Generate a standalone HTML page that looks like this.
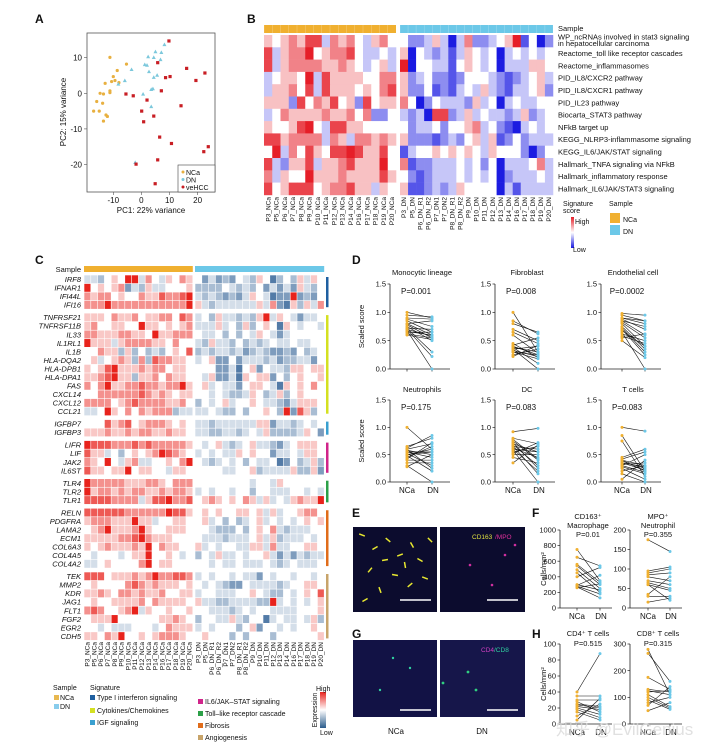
<!DOCTYPE html>
<html><head><meta charset="utf-8"><style>
html,body{margin:0;padding:0;background:#fff}
svg{display:block;font-family:"Liberation Sans",Arial,sans-serif}
</style></head><body>
<svg id="fig" width="720" height="752" viewBox="0 0 720 752" xmlns="http://www.w3.org/2000/svg"></svg>
<script>
// ---------- DATA ----------
const pcaNCaX=[-11.2,-5.3,-8.6,-10,-9.4,-10.6,-8,-12.9,-14.7,-13.5,-11.2,-11.2,-15.9,-13.8,-17,-15,-12.6,-12.1,-13.5];
const pcaNCaY=[10.1,8.2,6.4,4.7,3.6,3.3,3,2.8,0,-0.2,0.7,0.2,-2.3,-2.8,-5,-5,-6.1,-6.5,-7.8];
const pcaDNX=[-3.5,-5.9,-8.2,0.6,3.5,2.4,5,7.1,4.4,6.8,8.2,1.2,2,2.7,4.4,5.6,3.5,4.1,-2.2];
const pcaDNY=[6.7,3.6,2.6,-0.2,-3.7,10.3,11.7,11.5,10.1,9.5,13.7,8.1,7.9,6.1,4.5,5.1,1.1,1.3,-19.4];
const pcaHCCX=[9.8,5.8,8.6,10.2,16.1,19.4,22.6,-5.5,-2.9,2,7.1,14.1,0.1,4.4,0.8,6.5,10.7,23.8,22.2,5.8,-1.9,4.9];
const pcaHCCY=[14.7,8.6,4.4,4.7,7,3.6,5.7,-0.2,-0.7,-1.9,0.7,-3.5,-5,-6.4,-8,-12.3,-14.1,-15,-16.4,-18.7,-19.9,-25.4];

const bNCaCols=["P3_NCa","P5_NCa","P6_NCa","P7_NCa","P8_NCa","P9_NCa","P10_NCa","P11_NCa","P12_NCa","P13_NCa","P14_NCa","P16_NCa","P17_NCa","P18_NCa","P19_NCa","P20_NCa"];
const bDNCols=["P3_DN","P5_DN","P6_DN_R1","P6_DN_R2","P7_DN1","P7_DN2","P8_DN_R1","P8_DN_R2","P9_DN","P10_DN","P11_DN","P12_DN","P13_DN","P14_DN","P16_DN","P17_DN","P18_DN","P19_DN","P20_DN"];
const bRows=["WP_ncRNAs involved in stat3 signaling|in hepatocellular carcinoma","Reactome_toll like receptor cascades","Reactome_inflammasomes","PID_IL8/CXCR2 pathway","PID_IL8/CXCR1 pathway","PID_IL23 pathway","Biocarta_STAT3 pathway","NFkB target up","KEGG_NLRP3-inflammasome signaling","KEGG_IL6/JAK/STAT signaling","Hallmark_TNFA signaling via NFkB","Hallmark_inflammatory response","Hallmark_IL6/JAK/STAT3 signaling"];
const bScores=[
"6567688476754675"+"5334641473345692513",
"8467795677854454"+"6054342465450454545",
"8467777667654564"+"9055442565451444665",
"4566594866665577"+"6345332355543234564",
"4667584866656578"+"6335232454643244563",
"6663857685638566"+"7503544436451454455",
"4576666766757335"+"4341883464544346345",
"6556895488665555"+"5344535567453214545",
"8867777476477676"+"6333234356462353444",
"5947586588986685"+"2455656565465553135",
"8436684667866695"+"7233444545351444574",
"7465596667666686"+"5323444545451344454",
"8568885677866465"+"6223434655551424444"];

const cGenes=["IRF8","IFNAR1","IFI44L","IFI16","TNFRSF21","TNFRSF11B","IL33","IL1RL1","IL1B","HLA-DQA2","HLA-DPB1","HLA-DPA1","FAS","CXCL14","CXCL12","CCL21","IGFBP7","IGFBP3","LIFR","LIF","JAK2","IL6ST","TLR4","TLR2","TLR1","RELN","PDGFRA","LAMA2","ECM1","COL6A3","COL4A5","COL4A2","TEK","MMP2","KDR","JAG1","FLT1","FGF2","EGR2","CDH5"];
const cGroups=[4,12,2,4,3,7,8];
const cGroupColors=["#1f5fa0","#d4e021","#3aa0d0","#d0248a","#2ca048","#e06c1a","#c8a46a"];
const cExpr=[
"4435659947546576"+"5242325436513536465",
"9565672436445556"+"3333543435242426435",
"7677565576687789"+"4343232465412292325",
"7779777777777779"+"6434444446472163647",
"6665766756677587"+"4536443436946542445",
"6755665596656567"+"4446453635651654554",
"7766677665966777"+"5445353546542455555",
"9666467777665755"+"4364435343454454455",
"5576636353435658"+"3434434234322325345",
"5645676373877665"+"4562252444342334425",
"6568966676775665"+"5552241562544366566",
"6678966366757665"+"5462241656625356556",
"7579667787767796"+"5645442566541656575",
"5577777787676566"+"5545433465346356555",
"7777567877776675"+"3545645565443246665",
"4459657576777344"+"4454335355653928635",
"5558678567776565"+"4434444446624434545",
"6667667677667665"+"4433443454633334652",
"9888777878777776"+"5456434564432456665",
"8664535656798765"+"4545446565524454665",
"7659546744556579"+"5434545354451253463",
"8665669566554665"+"5555445563444463362",
"9777776667765777"+"5555555545546555555",
"9677676776676776"+"4545545535544455454",
"8888777746889778"+"5676565764645467669",
"8888887777779886"+"5656556656464556775",
"6777666966455665"+"5645353456454545656",
"5679666796556665"+"5543335356574344455",
"6666677897666555"+"5444344456463444545",
"6567666769576655"+"6454554466474455665",
"5455545669556545"+"3546445455642424344",
"4456555579566555"+"5545445444543454445",
"8885666767977887"+"4545545442545545545",
"5655557876766656"+"5454322544443455665",
"6676577676675566"+"4554445565433545658",
"5655666675766665"+"6443344443394545456",
"7875567946556556"+"5544434545544445556",
"5666955555566765"+"3554464355145445463",
"5545444555457666"+"4545553562554545565",
"6657695565677765"+"5655535355535555556"];

const dTitles=["Monocytic lineage","Fibroblast","Endothelial cell","Neutrophils","DC","T cells"];
const dPvals=["P=0.001","P=0.008","P=0.0002","P=0.175","P=0.083","P=0.083"];
const dNCa=[
[1.0,0.95,0.9,0.88,0.85,0.8,0.78,0.75,0.72,0.7,0.68,0.65,0.62,0.6,0.72,0.8,0.66,0.7],
[1.0,0.85,0.8,0.7,0.65,0.45,0.4,0.38,0.35,0.35,0.3,0.3,0.25,0.22,0.38,0.42,0.6,0.33],
[0.98,0.95,0.9,0.88,0.85,0.82,0.8,0.75,0.7,0.65,0.62,0.58,0.5,0.55,0.9,0.72,0.68,0.85],
[1.0,0.65,0.62,0.6,0.58,0.55,0.52,0.5,0.48,0.45,0.4,0.3,0.28,0.35,0.6,0.5,0.42,0.55],
[0.92,0.8,0.75,0.7,0.68,0.65,0.62,0.6,0.58,0.55,0.5,0.45,0.35,0.72,0.6,0.52,0.78,0.66],
[1.0,0.85,0.75,0.45,0.42,0.4,0.38,0.35,0.32,0.3,0.28,0.25,0.2,0.15,0.05,0.35,0.4,0.3]];
const dDN=[
[0.9,0.92,0.88,0.75,0.65,0.6,0.55,0.5,0.3,0.22,0.0,0.65,0.55,0.52,0.7,0.85,0.6,0.58],
[0.3,0.62,0.65,0.5,0.45,0.2,0.25,0.3,0.0,0.4,0.25,0.18,0.35,0.42,0.1,0.55,0.28,0.22],
[0.95,0.85,0.8,0.7,0.6,0.55,0.4,0.35,0.25,0.0,0.5,0.45,0.2,0.62,0.85,0.3,0.4,0.75],
[0.6,0.8,0.85,0.7,0.5,0.45,0.3,0.55,0.2,0.65,0.4,0.0,0.5,0.35,0.25,0.6,0.72,0.55],
[0.98,0.7,0.4,0.55,0.3,0.6,0.45,0.2,0.0,0.65,0.5,0.35,0.68,0.25,0.55,0.72,0.42,0.15],
[0.93,0.2,0.1,0.6,0.55,0.3,0.25,0.22,0.35,0.5,0.15,0.05,0.3,0.0,0.4,0.28,0.2,0.18]];
const dTicks=[0,0.5,1.0,1.5];

const fhTitles1=["CD163⁺","MPO⁺","CD4⁺ T cells","CD8⁺ T cells"];
const fhTitles2=["Macrophage","Neutrophil","",""];
const fhPvals=["P=0.01","P=0.355","P=0.515","P=0.315"];
const fhMax=[1000,200,100,300];
const fhStep=[200,50,20,100];
const fhNCa=[
[750,650,560,540,490,450,400,300,290,280,270,260],
[175,95,90,85,70,65,60,35,30,15,80,60],
[40,35,30,25,24,22,20,18,15,10,5,28],
[280,265,175,130,120,110,100,90,80,70,50,125]];
const fhDN=[
[350,540,330,300,250,200,520,230,420,180,130,310],
[145,105,100,90,60,50,45,80,30,25,70,20],
[88,35,30,22,20,18,12,8,5,25,32,15],
[110,160,130,120,125,65,60,55,100,140,80,110]];

// ---------- helpers ----------
const NS="http://www.w3.org/2000/svg";
const svg=document.getElementById('fig');
function mk(tag,parent){const e=document.createElementNS(NS,tag);(parent||svg).appendChild(e);return e;}
function at(e,o){for(const k in o)e.setAttribute(k,o[k]);return e;}
function txt(parent,x,y,s,size,anchor,extra){const t=mk('text',parent);at(t,{x:x,y:y,'font-size':size,'text-anchor':anchor||'start',fill:'#111'});if(extra)at(t,extra);t.textContent=s;return t;}
function grp(name){const g=mk('g');return g;}
function lerp(a,b,t){return a.map((v,i)=>Math.round(v+(b[i]-v)*t));}
function divColor(v,low,high,span){span=span||4;const t=(v-5)/span;if(t>=0){const c=lerp([255,255,255],high,Math.min(1,t));return `rgb(${c})`;}const c=lerp([255,255,255],low,Math.min(1,-t*4/5*4/span));return `rgb(${c})`;}
const ORANGE="#f0b030",BLUE="#6cc8e8";

// ---------- Panel labels ----------
[["A",35,23],["B",247,23],["C",35,264],["D",352,264],["E",352,517],["F",532,517],["G",352,638],["H",532,638]].forEach(p=>{
  const t=txt(svg,p[1],p[2],p[0],12,'start',{'font-weight':'bold'});
  
  
});

// ---------- Panel A ----------
(function(){
const g=grp('pca-scatter');
const xs=v=>141.4+v*2.81, ys=v=>93.3-v*3.56;
const box=mk('rect',g);at(box,{x:87,y:33,width:128,height:159,fill:'#fff',stroke:'#555','stroke-width':0.8});

[-10,0,10,20].forEach(v=>{const l=mk('line',g);at(l,{x1:xs(v),x2:xs(v),y1:192,y2:195,stroke:'#555','stroke-width':0.6});
 const t=txt(g,xs(v),203,String(v),8,'middle');});
[10,0,-10,-20].forEach(v=>{const l=mk('line',g);at(l,{x1:84,x2:87,y1:ys(v),y2:ys(v),stroke:'#555','stroke-width':0.6});
 const t=txt(g,82,ys(v)+3,String(v),8,'end');});
const xt=txt(g,151,213,"PC1: 22% variance",8,'middle');
const yt=txt(g,0,0,"PC2: 15% variance",8,'middle',{transform:'translate(66,112) rotate(-90)'});
pcaNCaX.forEach((x,i)=>{const c=mk('circle',g);at(c,{cx:xs(x),cy:ys(pcaNCaY[i]),r:1.6,fill:'#e8b040'});});
pcaDNX.forEach((x,i)=>{const cx=xs(x),cy=ys(pcaDNY[i]);const p=mk('polygon',g);at(p,{points:`${cx},${cy-2} ${cx-2},${cy+1.6} ${cx+2},${cy+1.6}`,fill:'#7cc8dc'});});
pcaHCCX.forEach((x,i)=>{const r=mk('rect',g);at(r,{x:xs(x)-1.6,y:ys(pcaHCCY[i])-1.6,width:3.2,height:3.2,fill:'#c81e24'});});
const lg=mk('g',g);
at(mk('rect',lg),{x:178,y:165,width:37,height:27,fill:'#fff',stroke:'#444','stroke-width':0.6});
const items=[["NCa",'#e8b040'],["DN",'#7cc8dc'],["veHCC",'#c81e24']];
items.forEach((it,i)=>{at(mk('circle',lg),{cx:183,cy:172+i*7.5,r:1.5,fill:it[1]});const t=txt(lg,186,175+i*7.5,it[0],7);});
})();

// ---------- Panel B ----------
(function(){
const g=grp('signature-heatmap');
const x0N=264,wN=8.25,x0D=400,wD=8.05,y0=35,rh=12.3;
const colX=[];bNCaCols.forEach((c,i)=>colX.push([x0N+i*wN,wN]));bDNCols.forEach((c,i)=>colX.push([x0D+i*wD,wD]));
const sb1=mk('rect',g);at(sb1,{x:x0N,y:25,width:wN*16,height:8,fill:ORANGE});
const sb2=mk('rect',g);at(sb2,{x:x0D,y:25,width:wD*19,height:8,fill:BLUE});
colX.forEach(c=>{at(mk('line',g),{x1:c[0],x2:c[0],y1:25,y2:33,stroke:'#fff','stroke-width':0.3,opacity:0.6});});
bScores.forEach((row,r)=>{for(let c=0;c<colX.length;c++){const v=+(row[c]||5);const rc=mk('rect',g);
 at(rc,{x:colX[c][0],y:y0+r*rh,width:colX[c][1]+0.3,height:rh+0.3,fill:divColor(v,[25,25,225],[230,30,40],3.6)});
 }});
txt(g,558,31,"Sample",7.5);
bRows.forEach((r,i)=>{const parts=r.split('|');const y=y0+i*rh+rh/2+2.6;
 if(parts.length>1){const t=txt(g,558,39.5,parts[0],7.5);const t2=txt(g,558,46,parts[1],7.5);}
 else{const t=txt(g,558,y,r,7.5);}});
const names=bNCaCols.concat(bDNCols);
names.forEach((n,i)=>{const cx=colX[i][0]+colX[i][1]/2+2.2;const t=txt(g,0,0,n,6.5,'end',{transform:`translate(${cx},197) rotate(-90)`});});
const lg=mk('g',g);
txt(lg,563,206,"Signature",7);txt(lg,563,213,"score",7);
const df=mk('defs',lg);const gr=mk('linearGradient',df);at(gr,{id:'gB',x1:0,y1:0,x2:0,y2:1});
[['0%','#e61e28'],['50%','#ffffff'],['100%','#1919e0']].forEach(s=>at(mk('stop',gr),{offset:s[0],'stop-color':s[1]}));
at(mk('rect',lg),{x:571,y:217,width:3,height:31,fill:'url(#gB)'});
txt(lg,575,224,"High",7);txt(lg,573,252,"Low",7);
txt(lg,609,206,"Sample",7);
at(mk('rect',lg),{x:610,y:213,width:10,height:10,fill:ORANGE});txt(lg,623,222,"NCa",7);
at(mk('rect',lg),{x:610,y:225,width:10,height:10,fill:BLUE});txt(lg,623,234,"DN",7);
})();

// ---------- Panel C ----------
(function(){
const g=grp('gene-heatmap');
const x0N=84,wN=6.8,x0D=195,wD=6.8,rh=8.55,gap=3.9,yStart=275;
const colX=[];for(let i=0;i<16;i++)colX.push(x0N+i*wN);for(let i=0;i<19;i++)colX.push(x0D+i*wD);
txt(g,81,272,"Sample",7.5,'end');
const s1=mk('rect',g);at(s1,{x:x0N,y:266,width:16*wN,height:6,fill:ORANGE});
const s2=mk('rect',g);at(s2,{x:x0D,y:266,width:19*wD,height:6,fill:BLUE});
let r=0,y=yStart;
cGroups.forEach((n,gi)=>{const gy=y;
 for(let k=0;k<n;k++){const row=cExpr[r];
  for(let c=0;c<35;c++){const v=+(row[c]||5);const rc=mk('rect',g);
   at(rc,{x:colX[c]+0.3,y:y+0.3,width:wN-0.6,height:rh-0.6,fill:divColor(v,[40,90,145],[232,35,28])});
   }
  const t=txt(g,81,y+rh-1.5,cGenes[r],7.5,'end',{'font-style':'italic'});
  y+=rh;r++;}
 const b=mk('rect',g);at(b,{x:326,y:gy+2,width:2.5,height:n*rh-4,fill:cGroupColors[gi]});
 y+=gap;});
const names=bNCaCols.concat(bDNCols);
names.forEach((n,i)=>{const cx=colX[i]+wN/2+2.2;const t=txt(g,0,0,n,6.5,'end',{transform:`translate(${cx},642) rotate(-90)`});});
const lg=mk('g',g);
txt(lg,53,690,"Sample",7);
at(mk('rect',lg),{x:54,y:695,width:5,height:5,fill:'#e8b850'});txt(lg,60,700,"NCa",7);
at(mk('rect',lg),{x:54,y:704,width:5,height:5,fill:'#88ccec'});txt(lg,60,709,"DN",7);
txt(lg,90,690,"Signature",7);
const sig=[["Type I interferon signaling",90,700,0],["Cytokines/Chemokines",90,713,1],["IGF signaling",90,725,2],["IL6/JAK–STAT signaling",198,704,3],["Toll–like receptor cascade",198,716,4],["Fibrosis",198,728,5],["Angiogenesis",198,740,6]];
sig.forEach(s=>{at(mk('rect',lg),{x:s[1],y:s[2]-5,width:5,height:5,fill:cGroupColors[s[3]]});const t=txt(lg,s[1]+7,s[2],s[0],7);});
const df=mk('defs',lg);const gr=mk('linearGradient',df);at(gr,{id:'gC',x1:0,y1:0,x2:0,y2:1});
[['0%','#e8231e'],['50%','#ffffff'],['100%','#2a5c8c']].forEach(s=>at(mk('stop',gr),{offset:s[0],'stop-color':s[1]}));
at(mk('rect',lg),{x:320,y:692,width:6,height:36,fill:'url(#gC)'});
txt(lg,316,691,"High",7);txt(lg,320,735,"Low",7);
txt(lg,0,0,"Expression",7,'middle',{transform:'translate(317,710) rotate(-90)'});
})();

// ---------- paired plot function ----------
function paired(name,ax,y0,yT,max,ticks,nx,dx,xEnd,nca,dn,showX,tickFmt){
 const g=grp(name);const ys=v=>y0-(v/max)*(y0-yT);
 at(mk('line',g),{x1:ax,x2:ax,y1:yT,y2:y0,stroke:'#222','stroke-width':0.8});
 at(mk('line',g),{x1:ax,x2:xEnd,y1:y0,y2:y0,stroke:'#222','stroke-width':0.8});
 ticks.forEach(v=>{at(mk('line',g),{x1:ax-2.5,x2:ax,y1:ys(v),y2:ys(v),stroke:'#222','stroke-width':0.7});
  const t=txt(g,ax-4,ys(v)+2.6,tickFmt(v),7.5,'end');});
 [nx,dx].forEach(x=>at(mk('line',g),{x1:x,x2:x,y1:y0,y2:y0+2.5,stroke:'#222','stroke-width':0.7}));
 if(showX){txt(g,nx,y0+11,"NCa",8,'middle');txt(g,dx+1,y0+11,"DN",8,'middle');}
 nca.forEach((v,i)=>{const l=mk('line',g);at(l,{x1:nx,y1:ys(v),x2:dx,y2:ys(dn[i]),stroke:'#111','stroke-width':0.6});});
 nca.forEach(v=>{const c=mk('circle',g);at(c,{cx:nx,cy:ys(v),r:1.5,fill:ORANGE});});
 dn.forEach(v=>{const c=mk('circle',g);at(c,{cx:dx,cy:ys(v),r:1.5,fill:BLUE});});
 return g;}

// ---------- Panel D ----------
const dAx=[390,495,601],dNx=[407,513,622],dDx=[432,538,645];
for(let i=0;i<6;i++){const row=Math.floor(i/3),col=i%3;
 const y0=row?482:369,yT=row?400:284;
 const g=paired('cell-score-plot-'+(i+1),dAx[col],y0,yT,1.5,dTicks,dNx[col],dDx[col],dAx[col]+60,dNCa[i],dDN[i],row===1,v=>v.toFixed(1));
 const t=txt(g,dAx[col]+32,row?392:275,dTitles[i],7.5,'middle');
 const p=txt(g,dAx[col]+26,row?410:294,dPvals[i],8,'middle');
 if(col===0){const yl=txt(g,0,0,"Scaled score",7.5,'middle',{transform:`translate(${dAx[0]-26},${(y0+yT)/2}) rotate(-90)`});}
}

// ---------- Panels F, H ----------
const fhAx=[560,630,560,630],fhNx=[577,648,577,648],fhDx=[600,670,600,670];
for(let i=0;i<4;i++){const row=i>1?1:0;const y0=row?724:608,yT=row?644:530;
 const ticks=[];for(let v=0;v<=fhMax[i];v+=fhStep[i])ticks.push(v);
 const g=paired('cell-density-plot-'+(i+1),fhAx[i],y0,yT,fhMax[i],ticks,fhNx[i],fhDx[i],fhAx[i]+52,fhNCa[i],fhDN[i],true,v=>String(v));
 const cx=fhAx[i]+28;
 if(row===0){txt(g,cx,519,fhTitles1[i],7.5,'middle');txt(g,cx,528,fhTitles2[i],7.5,'middle');const p=txt(g,cx,537,fhPvals[i],7.5,'middle');}
 else{txt(g,cx,636,fhTitles1[i],7.5,'middle');const p=txt(g,cx,646,fhPvals[i],7.5,'middle');}
 if(i%2===0){const yl=txt(g,0,0,"Cells/mm²",7.5,'middle',{transform:`translate(546,${(y0+yT)/2}) rotate(-90)`});}
}

// ---------- Panels E, G images ----------
function micro(name,x,y,w,h,bg){const g=grp(name);at(mk('rect',g),{x:x,y:y,width:w,height:h,fill:bg});return g;}
const eL=micro('if-image-e-nca',353,527,84,85,'#0c0c2e');
const streaks=[[362,535,20],[375,548,-30],[388,540,40],[400,555,-20],[412,545,60],[420,560,30],[370,570,-50],[395,575,10],[410,585,-40],[380,590,70],[425,578,20],[365,600,-30],[405,565,80],[385,560,-10],[430,540,45]];
streaks.forEach(s=>{const l=mk('line',eL);at(l,{x1:s[0]-3,y1:s[1],x2:s[0]+3,y2:s[1],stroke:'#e8e830','stroke-width':1.5,transform:`rotate(${s[2]} ${s[0]} ${s[1]})`});});
at(mk('line',eL),{x1:400,x2:431,y1:600,y2:600,stroke:'#fff','stroke-width':1.5});
const eR=micro('if-image-e-dn',440,527,85,85,'#0c0c2e');
[[470,565],[505,555],[492,585],[515,545]].forEach(p=>at(mk('circle',eR),{cx:p[0],cy:p[1],r:1.3,fill:'#d030a0'}));
txt(eR,472,539,"CD163",6.5,'start',{fill:'#e0e040'});txt(eR,495,539,"/MPO",6.5,'start',{fill:'#e0309a'});
at(mk('line',eR),{x1:487,x2:518,y1:600,y2:600,stroke:'#fff','stroke-width':1.5});
const gL=micro('if-image-g-nca',353,640,84,77,'#121245');
[[393,658],[410,668],[380,690]].forEach(p=>at(mk('circle',gL),{cx:p[0],cy:p[1],r:1.2,fill:'#30d0a0'}));
at(mk('line',gL),{x1:400,x2:431,y1:710,y2:710,stroke:'#fff','stroke-width':1.5});
const gR=micro('if-image-g-dn',440,640,85,77,'#16164a');
[[443,683],[476,690],[468,672]].forEach(p=>at(mk('circle',gR),{cx:p[0],cy:p[1],r:1.4,fill:'#30d080'}));
txt(gR,481,652,"CD4",6.5,'start',{fill:'#d040c0'});txt(gR,494,652,"/CD8",6.5,'start',{fill:'#30d0a0'});
at(mk('line',gR),{x1:487,x2:518,y1:710,y2:710,stroke:'#fff','stroke-width':1.5});
const l1=txt(svg,396,734,"NCa",8,'middle');
const l2=txt(svg,482,734,"DN",8,'middle');

// watermark
const wm=txt(svg,556,735,"知乎 @EvilGenius",17,'start',{fill:'#d8d8d8','fill-opacity':0.8,'font-family':'"Liberation Sans","Noto Sans CJK SC",sans-serif'});

</script>
</body></html>
